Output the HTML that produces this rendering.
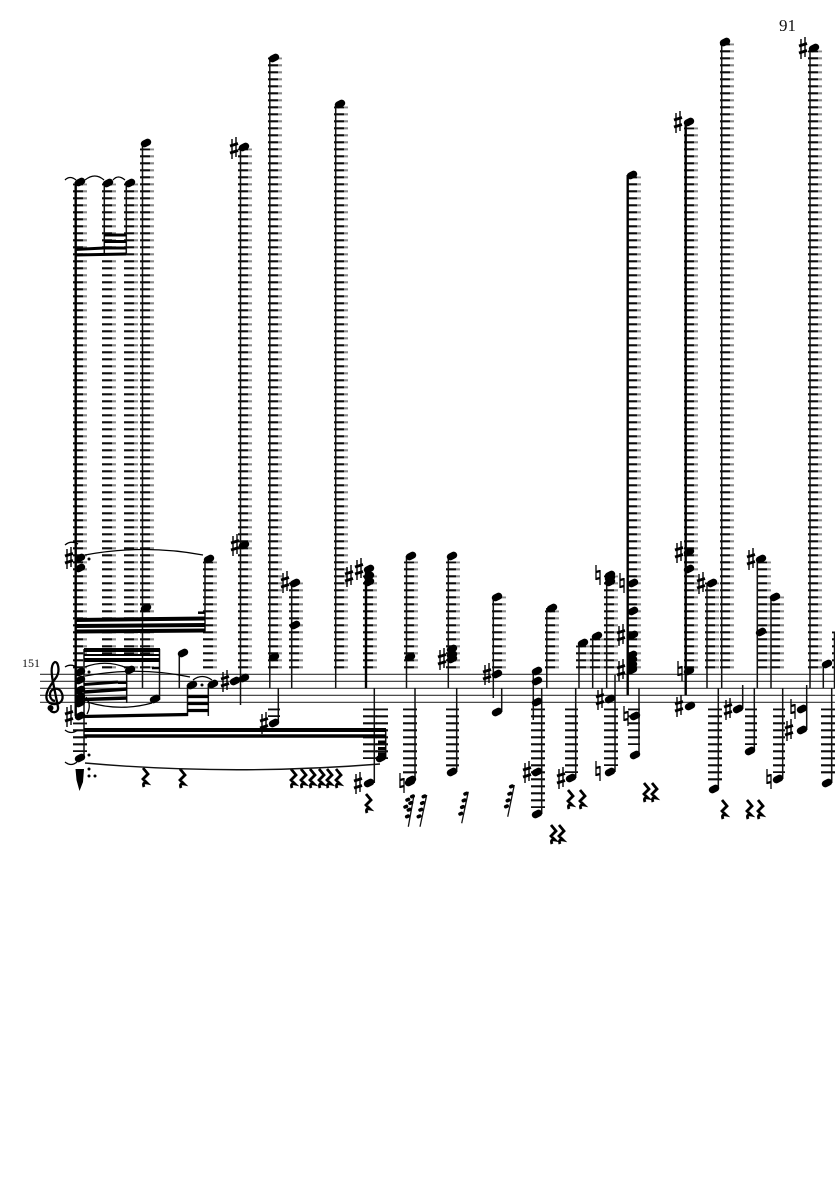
<!DOCTYPE html>
<html>
<head>
<meta charset="utf-8">
<style>
html,body{margin:0;padding:0;background:#fff;width:835px;height:1181px;overflow:hidden}
svg{display:block}
text{font-family:"Liberation Serif",serif;fill:#111}
.l{stroke:#0c0c0c;stroke-dasharray:2.2 4.8;stroke-dashoffset:.3;fill:none}
.t{stroke:#8a8a8a;stroke-dasharray:2.2 4.8;stroke-dashoffset:.3;fill:none}
</style>
</head>
<body>
<svg width="835" height="1181" viewBox="0 0 835 1181" xmlns="http://www.w3.org/2000/svg">
<rect width="835" height="1181" fill="#fff"/>
<text x="779" y="31" font-size="17">91</text>
<text x="22" y="667" font-size="12">151</text>

<!-- staff -->
<path d="M40 674.3H835M40 681.3H835M40 688.3H835M40 695.3H835M40 702.3H835" stroke="#333" stroke-width="1.1" fill="none"/>

<!-- upper ledger stacks: dark part -->
<g stroke-width="10">
<line class="l" x1="78" x2="78" y1="183.5" y2="668.4"/>
<line class="l" x1="107" x2="107" y1="183.5" y2="668.4"/>
<line class="l" x1="129" x2="129" y1="183.5" y2="668.4"/>
<line class="l" x1="145" x2="145" y1="148.5" y2="668.4"/>
<line class="l" x1="243" x2="243" y1="148.5" y2="668.4"/>
<line class="l" x1="273" x2="273" y1="57.5" y2="668.4"/>
<line class="l" x1="339" x2="339" y1="106.5" y2="668.4"/>
<line class="l" x1="208" x2="208" y1="561.5" y2="668.4"/>
<line class="l" x1="294" x2="294" y1="582.5" y2="668.4"/>
<line class="l" x1="368" x2="368" y1="575.5" y2="668.4"/>
<line class="l" x1="409" x2="409" y1="561.5" y2="668.4"/>
<line class="l" x1="451" x2="451" y1="561.5" y2="668.4"/>
<line class="l" x1="497" x2="497" y1="596.5" y2="668.4"/>
<line class="l" x1="550" x2="550" y1="610.5" y2="668.4"/>
<line class="l" x1="581" x2="581" y1="645.5" y2="668.4"/>
<line class="l" x1="595" x2="595" y1="638.5" y2="668.4"/>
<line class="l" x1="609" x2="609" y1="575.5" y2="668.4"/>
<line class="l" x1="632" x2="632" y1="176.5" y2="668.4"/>
<line class="l" x1="689" x2="689" y1="127.5" y2="668.4"/>
<line class="l" x1="710" x2="710" y1="582.5" y2="668.4"/>
<line class="l" x1="725" x2="725" y1="43.5" y2="668.4"/>
<line class="l" x1="762" x2="762" y1="561.5" y2="668.4"/>
<line class="l" x1="775" x2="775" y1="596.5" y2="668.4"/>
<line class="l" x1="813" x2="813" y1="50.5" y2="668.4"/>
<line class="l" x1="837" x2="837" y1="631.5" y2="668.4"/>
</g>
<!-- upper ledger stacks: pale ends -->
<g stroke-width="4">
<line class="t" x1="85" x2="85" y1="183.5" y2="668.4"/>
<line class="t" x1="114" x2="114" y1="183.5" y2="668.4"/>
<line class="t" x1="136" x2="136" y1="183.5" y2="668.4"/>
<line class="t" x1="152" x2="152" y1="148.5" y2="668.4"/>
<line class="t" x1="250" x2="250" y1="148.5" y2="668.4"/>
<line class="t" x1="280" x2="280" y1="57.5" y2="668.4"/>
<line class="t" x1="346" x2="346" y1="106.5" y2="668.4"/>
<line class="t" x1="215" x2="215" y1="561.5" y2="668.4"/>
<line class="t" x1="301" x2="301" y1="582.5" y2="668.4"/>
<line class="t" x1="375" x2="375" y1="575.5" y2="668.4"/>
<line class="t" x1="416" x2="416" y1="561.5" y2="668.4"/>
<line class="t" x1="458" x2="458" y1="561.5" y2="668.4"/>
<line class="t" x1="504" x2="504" y1="596.5" y2="668.4"/>
<line class="t" x1="557" x2="557" y1="610.5" y2="668.4"/>
<line class="t" x1="588" x2="588" y1="645.5" y2="668.4"/>
<line class="t" x1="602" x2="602" y1="638.5" y2="668.4"/>
<line class="t" x1="616" x2="616" y1="575.5" y2="668.4"/>
<line class="t" x1="639" x2="639" y1="176.5" y2="668.4"/>
<line class="t" x1="696" x2="696" y1="127.5" y2="668.4"/>
<line class="t" x1="717" x2="717" y1="582.5" y2="668.4"/>
<line class="t" x1="732" x2="732" y1="43.5" y2="668.4"/>
<line class="t" x1="769" x2="769" y1="561.5" y2="668.4"/>
<line class="t" x1="782" x2="782" y1="596.5" y2="668.4"/>
<line class="t" x1="820" x2="820" y1="50.5" y2="668.4"/>
</g>
<!-- lower ledger stacks -->
<g>
<line class="l" stroke-width="14" x1="80" x2="80" y1="722.5" y2="752"/>
<line class="l" stroke-width="12" x1="274" x2="274" y1="708.5" y2="717"/>
<line class="l" stroke-width="14" x1="370" x2="370" y1="708.5" y2="759"/>
<line class="l" stroke-width="12" x1="382" x2="382" y1="708.5" y2="759"/>
<line class="l" stroke-width="14" x1="410" x2="410" y1="708.5" y2="774"/>
<line class="l" stroke-width="13" x1="452.5" x2="452.5" y1="708.5" y2="767"/>
<line class="l" stroke-width="14" x1="538" x2="538" y1="708.5" y2="808"/>
<line class="l" stroke-width="13" x1="571.5" x2="571.5" y1="708.5" y2="773"/>
<line class="l" stroke-width="14" x1="611" x2="611" y1="708.5" y2="766"/>
<line class="l" stroke-width="12" x1="634" x2="634" y1="708.5" y2="745"/>
<line class="l" stroke-width="14" x1="715" x2="715" y1="708.5" y2="783"/>
<line class="l" stroke-width="12" x1="751" x2="751" y1="708.5" y2="745"/>
<line class="l" stroke-width="12" x1="779" x2="779" y1="708.5" y2="773"/>
<line class="l" stroke-width="14" x1="828" x2="828" y1="708.5" y2="777"/>
</g>

<!-- stems -->
<path fill="none" stroke="#111" stroke-width="1.5" d="
M104.3 183V255M126.3 183V255M142.5 143V688M240.5 147V705M269.8 58V688M335.7 104V688
M205 559V632M84 649V757M159.5 649V700M126.7 670V703M179.3 653V688M187.5 685V716M208.3 684V716
M278.3 688V723M291.7 583V688M406.5 556V688M448.3 556V688M493.3 597V698M501.7 688V712
M546.8 608V688M533.3 671V720M541.7 688V814M374.3 688V783M385.7 729V758M415 688V780M456.7 688V772
M575.7 688V778M579 643V688M592.7 636V688M606.7 575V688M615 675V772M639 688V755
M707 583V688M721.7 42V688M718.3 688V789M742.7 685V709M754.3 688V751M757.3 559V688M771 597V688
M782.7 688V779M806.7 685V730M810 48V688M823.3 664V688M831.7 688V783M834.5 632V688"/>
<path fill="none" stroke="#000" stroke-width="2.4" d="M75.7 182V716M366 569V688M627.7 175V695M685.7 122V695"/>

<!-- beams -->
<g fill="none" stroke="#000">
<path stroke-width="3" d="M75 249.5L104 248M75 255L126 254M104 235H126M104 241.5H126M104 248H126"/>
<path stroke-width="4" d="M75 620L205 618.5M75 626L205 625M75 631.5L205 630.5"/>
<path stroke-width="2.5" d="M198 612.7H205"/>
<path stroke-width="4" d="M84 650H160M84 660H160"/>
<path stroke-width="2" d="M84 655H160"/>
<path stroke-width="2.5" d="M152 668H159.5M118 682.7H126.7"/>
<path stroke-width="3.5" d="M84 692L127 689M84 699.5L127 698"/>
<path stroke-width="3" d="M84 684.5L118 682"/>
<path stroke-width="3.2" d="M83 716.5L188 714.5"/>
<path stroke-width="3.2" d="M187.5 696.5H208.5M187.5 703.5H208.5M187.5 710.5H208.5"/>
<path stroke-width="4" d="M84 730H386"/>
<path stroke-width="3.5" d="M84 736H386"/>
<path stroke-width="3" d="M378 742H386M378 748.5H386M378 754H386"/>
</g>

<!-- noteheads -->
<path fill="none" stroke="#000" stroke-width="7" stroke-linecap="round" d="
M80 182m-1.7 .85l3.4-1.7M108 183m-1.7 .85l3.4-1.7M130 183m-1.7 .85l3.4-1.7M146 143m-1.7 .85l3.4-1.7
M244 147m-1.7 .85l3.4-1.7M274 58m-1.7 .85l3.4-1.7M340 104m-1.7 .85l3.4-1.7
M80 558m-1.7 .85l3.4-1.7M80 568m-1.7 .85l3.4-1.7M209 559m-1.7 .85l3.4-1.7M146 608m-1.7 .85l3.4-1.7
M80 672m-1.7 .85l3.4-1.7M80 680m-1.7 .85l3.4-1.7M80 690m-1.7 .85l3.4-1.7M80 697m-1.7 .85l3.4-1.7M80 703m-1.7 .85l3.4-1.7
M80 716m-1.7 .85l3.4-1.7M80 758m-1.7 .85l3.4-1.7M130 670m-1.7 .85l3.4-1.7M155 699m-1.7 .85l3.4-1.7
M183 653m-1.7 .85l3.4-1.7M192 685m-1.7 .85l3.4-1.7M213 684m-1.7 .85l3.4-1.7M235 681m-1.7 .85l3.4-1.7M244 678m-1.7 .85l3.4-1.7
M244 545m-1.7 .85l3.4-1.7M274 657m-1.7 .85l3.4-1.7M274 723m-1.7 .85l3.4-1.7M295 583m-1.7 .85l3.4-1.7M295 625m-1.7 .85l3.4-1.7
M369 569m-1.7 .85l3.4-1.7M369 576m-1.7 .85l3.4-1.7M369 582m-1.7 .85l3.4-1.7
M411 556m-1.7 .85l3.4-1.7M410 657m-1.7 .85l3.4-1.7M452 556m-1.7 .85l3.4-1.7M452 649m-1.7 .85l3.4-1.7M452 655m-1.7 .85l3.4-1.7M452 659m-1.7 .85l3.4-1.7
M497 597m-1.7 .85l3.4-1.7M497 674m-1.7 .85l3.4-1.7M497 712m-1.7 .85l3.4-1.7M552 608m-1.7 .85l3.4-1.7
M537 671m-1.7 .85l3.4-1.7M537 681m-1.7 .85l3.4-1.7M537 702m-1.7 .85l3.4-1.7M537 772m-1.7 .85l3.4-1.7M537 814m-1.7 .85l3.4-1.7
M369 783m-1.7 .85l3.4-1.7M381 758m-1.7 .85l3.4-1.7M411 780m-1.7 .85l3.4-1.7M410 782m-1.7 .85l3.4-1.7M452 772m-1.7 .85l3.4-1.7
M571 778m-1.7 .85l3.4-1.7M583 643m-1.7 .85l3.4-1.7M597 636m-1.7 .85l3.4-1.7
M610 575m-1.7 .85l3.4-1.7M610 578m-1.7 .85l3.4-1.7M610 582m-1.7 .85l3.4-1.7M610 699m-1.7 .85l3.4-1.7M610 772m-1.7 .85l3.4-1.7
M632 175m-1.7 .85l3.4-1.7M633 583m-1.7 .85l3.4-1.7M633 611m-1.7 .85l3.4-1.7M633 635m-1.7 .85l3.4-1.7
M632 655m-1.7 .85l3.4-1.7M632 660m-1.7 .85l3.4-1.7M632 665m-1.7 .85l3.4-1.7M632 670m-1.7 .85l3.4-1.7M635 716m-1.7 .85l3.4-1.7M635 755m-1.7 .85l3.4-1.7
M689 122m-1.7 .85l3.4-1.7M689 552m-1.7 .85l3.4-1.7M689 569m-1.7 .85l3.4-1.7M689 671m-1.7 .85l3.4-1.7M690 706m-1.7 .85l3.4-1.7
M712 583m-1.7 .85l3.4-1.7M725 42m-1.7 .85l3.4-1.7M714 789m-1.7 .85l3.4-1.7M738 709m-1.7 .85l3.4-1.7M750 751m-1.7 .85l3.4-1.7
M761 559m-1.7 .85l3.4-1.7M761 632m-1.7 .85l3.4-1.7M775 597m-1.7 .85l3.4-1.7M778 779m-1.7 .85l3.4-1.7
M802 709m-1.7 .85l3.4-1.7M802 730m-1.7 .85l3.4-1.7M814 48m-1.7 .85l3.4-1.7M827 664m-1.7 .85l3.4-1.7M827 783m-1.7 .85l3.4-1.7"/>

<!-- sharps: verticals -->
<path fill="none" stroke="#000" stroke-width="1.4" d="
M69 558m-2-9v20m4-22v20M69 716m-2-9v20m4-22v20M235 545m-2-9v20m4-22v20M234 148m-2-9v20m4-22v20M225 681m-2-9v20m4-22v20M264 723m-2-9v20m4-22v20
M285 582m-2-9v20m4-22v20M349 576m-2-9v20m4-22v20M359 569m-2-9v20m4-22v20M358 783m-2-9v20m4-22v20M442 659m-2-9v20m4-22v20M487 674m-2-9v20m4-22v20
M527 772m-2-9v20m4-22v20M561 778m-2-9v20m4-22v20M600 699m-2-9v20m4-22v20M621 635m-2-9v20m4-22v20M621 670m-2-9v20m4-22v20M678 122m-2-9v20m4-22v20
M679 552m-2-9v20m4-22v20M679 706m-2-9v20m4-22v20M701 583m-2-9v20m4-22v20M751 559m-2-9v20m4-22v20M728 709m-2-9v20m4-22v20M789 730m-2-9v20m4-22v20M803 48m-2-9v20m4-22v20"/>
<!-- sharps: bars -->
<path fill="none" stroke="#000" stroke-width="3" d="
M69 558m-4-2l8-2.5m-8 9.5l8-2.5M69 716m-4-2l8-2.5m-8 9.5l8-2.5M235 545m-4-2l8-2.5m-8 9.5l8-2.5M234 148m-4-2l8-2.5m-8 9.5l8-2.5M225 681m-4-2l8-2.5m-8 9.5l8-2.5M264 723m-4-2l8-2.5m-8 9.5l8-2.5
M285 582m-4-2l8-2.5m-8 9.5l8-2.5M349 576m-4-2l8-2.5m-8 9.5l8-2.5M359 569m-4-2l8-2.5m-8 9.5l8-2.5M358 783m-4-2l8-2.5m-8 9.5l8-2.5M442 659m-4-2l8-2.5m-8 9.5l8-2.5M487 674m-4-2l8-2.5m-8 9.5l8-2.5
M527 772m-4-2l8-2.5m-8 9.5l8-2.5M561 778m-4-2l8-2.5m-8 9.5l8-2.5M600 699m-4-2l8-2.5m-8 9.5l8-2.5M621 635m-4-2l8-2.5m-8 9.5l8-2.5M621 670m-4-2l8-2.5m-8 9.5l8-2.5M678 122m-4-2l8-2.5m-8 9.5l8-2.5
M679 552m-4-2l8-2.5m-8 9.5l8-2.5M679 706m-4-2l8-2.5m-8 9.5l8-2.5M701 583m-4-2l8-2.5m-8 9.5l8-2.5M751 559m-4-2l8-2.5m-8 9.5l8-2.5M728 709m-4-2l8-2.5m-8 9.5l8-2.5M789 730m-4-2l8-2.5m-8 9.5l8-2.5M803 48m-4-2l8-2.5m-8 9.5l8-2.5"/>

<!-- naturals -->
<path fill="none" stroke="#000" stroke-width="1.3" d="
M402 783m-2-10v15m4-10v15M598 575m-2-10v15m4-10v15M622 583m-2-10v15m4-10v15M598 771m-2-10v15m4-10v15M626 716m-2-10v15m4-10v15M680 671m-2-10v15m4-10v15M769 779m-2-10v15m4-10v15M793 709m-2-10v15m4-10v15"/>
<path fill="none" stroke="#000" stroke-width="2.4" d="
M402 783m-2-3l4-1m-4 8l4-1M598 575m-2-3l4-1m-4 8l4-1M622 583m-2-3l4-1m-4 8l4-1M598 771m-2-3l4-1m-4 8l4-1M626 716m-2-3l4-1m-4 8l4-1M680 671m-2-3l4-1m-4 8l4-1M769 779m-2-3l4-1m-4 8l4-1M793 709m-2-3l4-1m-4 8l4-1"/>

<!-- rests -->
<path fill="none" stroke="#000" stroke-width="2.8" d="
M145 777m-2-9l5 6l-5 5l4 4q-5-1-3 4M182 778m-2-9l5 6l-5 5l4 4q-5-1-3 4
M293 778m-2-9l5 6l-5 5l4 4q-5-1-3 4M303 778m-2-9l5 6l-5 5l4 4q-5-1-3 4M312 778m-2-9l5 6l-5 5l4 4q-5-1-3 4M321 778m-2-9l5 6l-5 5l4 4q-5-1-3 4M329 778m-2-9l5 6l-5 5l4 4q-5-1-3 4M338 778m-2-9l5 6l-5 5l4 4q-5-1-3 4
M368 803m-2-9l5 6l-5 5l4 4q-5-1-3 4M570 799m-2-9l5 6l-5 5l4 4q-5-1-3 4M582 799m-2-9l5 6l-5 5l4 4q-5-1-3 4
M646 792m-2-9l5 6l-5 5l4 4q-5-1-3 4M654 792m-2-9l5 6l-5 5l4 4q-5-1-3 4M724 809m-2-9l5 6l-5 5l4 4q-5-1-3 4M749 809m-2-9l5 6l-5 5l4 4q-5-1-3 4M760 809m-2-9l5 6l-5 5l4 4q-5-1-3 4
M553 834m-2-9l5 6l-5 5l4 4q-5-1-3 4M561 834m-2-9l5 6l-5 5l4 4q-5-1-3 4"/>

<!-- grace notes -->
<path fill="none" stroke="#111" stroke-width="1.3" d="M408.3 826.7L414 795M420 826.7L426.7 795M461.7 823.3L468.3 791.7M507.7 816.7L514.3 785"/>
<path fill="none" stroke="#000" stroke-width="3.6" stroke-linecap="round" d="
M406.7 816.7l1.5-.6M408.3 810l1.5-.6M410 803.3l1.5-.6M411.7 796.7l1.5-.6M405 807l1.5-.6M407 800l1.5-.6
M418.3 816.7l1.5-.6M420 810l1.5-.6M421.7 803.3l1.5-.6M423.3 796.7l1.5-.6
M460 814l1.5-.6M461.7 807.3l1.5-.6M463.3 800.7l1.5-.6M465 794l1.5-.6
M505.7 806.7l1.5-.6M507.3 800.7l1.5-.6M509 794l1.5-.6M510.7 786.7l1.5-.6"/>

<!-- slurs and ties -->
<path fill="none" stroke="#000" stroke-width="1.3" d="
M85 555Q144 544 203 555M65 545Q71 540 78 544M85 180Q95 172 104 180M113 180Q118 174 125 180M65 180Q70 175 76 180
M85 667Q106 659 127 668M85 676Q138 666 190 677M87 702Q120 712 152 703M193 680Q202 673 212 680
M65 667Q71 663 78 668M65 730Q71 735 78 730M65 762Q71 767 77 762M86 697Q92 705 87 714"/>
<path fill="none" stroke="#111" stroke-width="1.4" d="M85 763Q230 776 380 764"/>

<!-- dots -->
<path fill="none" stroke="#000" stroke-width="3" stroke-linecap="round" d="M89 559h.01M89 672h.01M89 755h.01M89 769h.01M89 776h.01M95 776h.01M202 685h.01"/>

<!-- cluster -->
<path d="M75.5 769L84 769L83 782L79.5 791L76.5 780Z" fill="#000"/>

<!-- clef -->
<path fill="none" stroke="#000" stroke-width="2.3" d="M55 701C49 700 48 691 54 689C61 687 64 696 62 700C60 705 50 706 47 700C44 692 52 684 57 676C60 670 58 662 55 662C51 664 51 672 53 682L58 707C59 713 51 714 50 709"/>
<path fill="#000" d="M47.5 708a3 3 0 1 0 6 0a3 3 0 1 0 -6 0z"/>
</svg>
</body>
</html>
